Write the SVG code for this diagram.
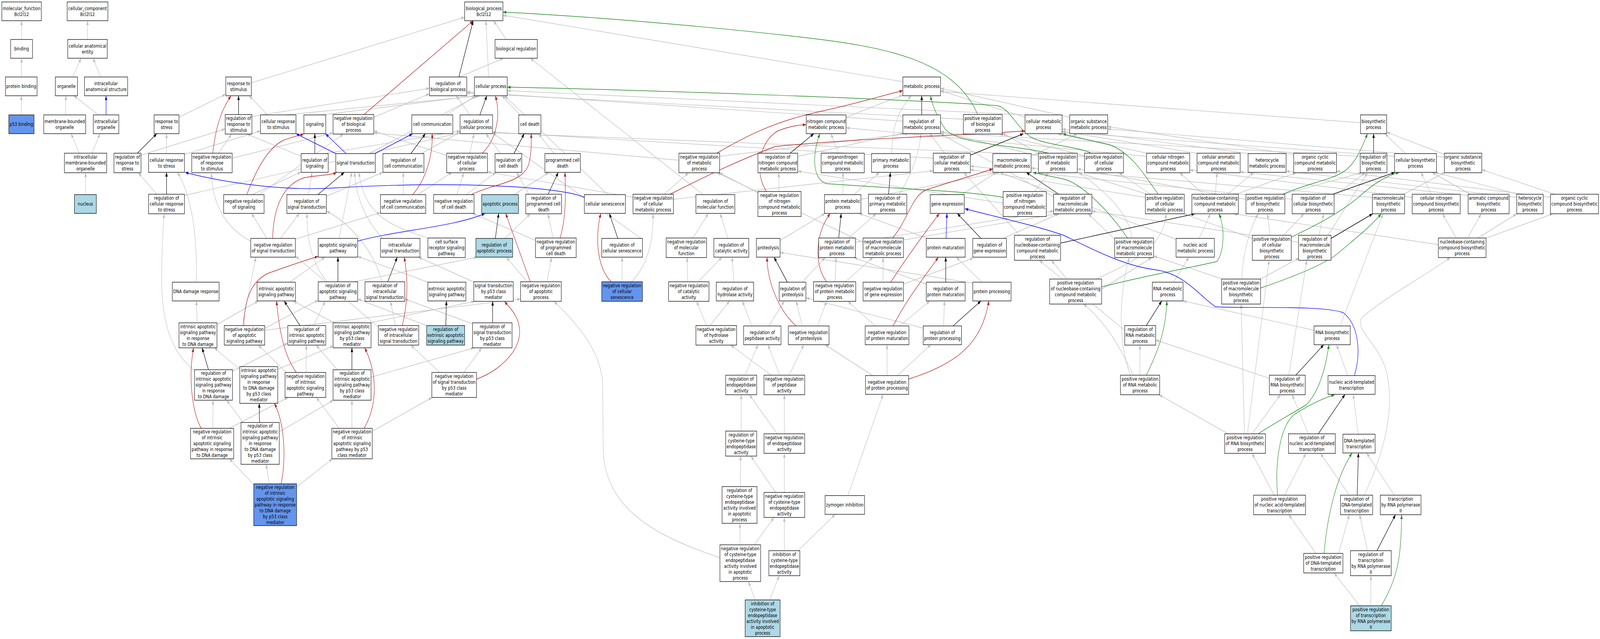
<svg xmlns="http://www.w3.org/2000/svg" width="5265" height="1635" viewBox="0 0 5265 1635" preserveAspectRatio="none">
<defs>
<marker id="ag" viewBox="0 0 11 8" refX="11" refY="4" markerWidth="11" markerHeight="8" markerUnits="userSpaceOnUse" orient="auto"><path d="M0,0 L11,4 L0,8 z" fill="#c0c0c0"/></marker>
<marker id="ak" viewBox="0 0 11 8" refX="11" refY="4" markerWidth="11" markerHeight="8" markerUnits="userSpaceOnUse" orient="auto"><path d="M0,0 L11,4 L0,8 z" fill="#000"/></marker>
<marker id="ar" viewBox="0 0 11 8" refX="11" refY="4" markerWidth="11" markerHeight="8" markerUnits="userSpaceOnUse" orient="auto"><path d="M0,0 L11,4 L0,8 z" fill="#b22222"/></marker>
<marker id="an" viewBox="0 0 11 8" refX="11" refY="4" markerWidth="11" markerHeight="8" markerUnits="userSpaceOnUse" orient="auto"><path d="M0,0 L11,4 L0,8 z" fill="#228b22"/></marker>
<marker id="ab" viewBox="0 0 11 8" refX="11" refY="4" markerWidth="11" markerHeight="8" markerUnits="userSpaceOnUse" orient="auto"><path d="M0,0 L11,4 L0,8 z" fill="#0000ff"/></marker>
</defs>
<style>
svg:root{width:100vw;height:100vh;max-width:5265px;max-height:1635px}
#edges path{fill:none;stroke-width:1.4}
.g{stroke:#c0c0c0;marker-end:url(#ag)}
.k{stroke:#000;marker-end:url(#ak)}
.r{stroke:#b22222;marker-end:url(#ar)}
.n{stroke:#228b22;marker-end:url(#an)}
.b{stroke:#0000ff;marker-end:url(#ab)}
.nd rect{fill:#fff;stroke:#000;stroke-width:1.3}
.nd.lb rect{fill:#add8e6}
.nd.cb rect{fill:#6495ed}
.nd text{font-family:"DejaVu Sans",Verdana,sans-serif;font-size:13px;text-anchor:middle;fill:#000}
</style>
<rect width="5265" height="1635" fill="#fff"/>
<g id="edges">
<g id="gray">
<path class="g" d="M71,101 L71,53"/>
<path class="g" d="M70,197 L71,149"/>
<path class="g" d="M70.5,294 L70,245"/>
<path class="g" d="M288,101 L288,53"/>
<path class="g" d="M239,197 L267,149"/>
<path class="g" d="M331,197 L306,149"/>
<path class="g" d="M215,294 L217,245"/>
<path class="g" d="M324,294 L243,245"/>
<path class="g" d="M261,392 L234,342"/>
<path class="g" d="M302,392 L329,342"/>
<path class="g" d="M281,498 L281.5,442"/>
<path class="g" d="M1666,101 L1624,53"/>
<path class="g" d="M1511,197 L1657,149"/>
<path class="g" d="M1608,197 L1599,53"/>
<path class="g" d="M827,212 L1529,44"/>
<path class="g" d="M2971,209 L1655,39"/>
<path class="g" d="M1230,300 L1413,240"/>
<path class="g" d="M3170,305 L1536,238"/>
<path class="g" d="M589,300 L743,241"/>
<path class="g" d="M829,298 L1413,226"/>
<path class="g" d="M880,294 L820,245"/>
<path class="g" d="M940,294 L1580,245"/>
<path class="g" d="M719,392 L762,343"/>
<path class="g" d="M764,405 L1096,340"/>
<path class="g" d="M464,397 L741,330"/>
<path class="g" d="M548,393 L548,342"/>
<path class="g" d="M607,395 L857,335"/>
<path class="g" d="M516,497 L455,442"/>
<path class="g" d="M607,500 L1514,340"/>
<path class="g" d="M646,722 C650,600 630,500 584,441"/>
<path class="g" d="M830,498 L991,440"/>
<path class="g" d="M853,498 L1130,343"/>
<path class="g" d="M923,610 L985,546"/>
<path class="g" d="M878,610 L828,546"/>
<path class="g" d="M972,612 L1252,544"/>
<path class="g" d="M825,617 C760,590 700,540 696,443"/>
<path class="g" d="M991,400 L813,343"/>
<path class="g" d="M1060,294 L1566,245"/>
<path class="g" d="M1470,294 L1565,245"/>
<path class="g" d="M1546,294 L1501,245"/>
<path class="g" d="M1711,294 L1652,245"/>
<path class="g" d="M1546,392 L1560,342"/>
<path class="g" d="M1470,398 L1230,335"/>
<path class="g" d="M1070,393 L1514,335"/>
<path class="g" d="M1214,393 L1572,245"/>
<path class="g" d="M1386,393 L1514,338"/>
<path class="g" d="M1647,393 L1599,342"/>
<path class="g" d="M1823,393 L1772,342"/>
<path class="g" d="M1015,498 L1027,441"/>
<path class="g" d="M1074,502 L1260,441"/>
<path class="g" d="M1327,498 L1327,441"/>
<path class="g" d="M1374,498 L1487,441"/>
<path class="g" d="M1534,498 L1632,441"/>
<path class="g" d="M1503,498 L1526,442"/>
<path class="g" d="M1692,498 L1806,441"/>
<path class="g" d="M1740,497 L1700,441"/>
<path class="g" d="M1661,610 L1745,547"/>
<path class="g" d="M1116,610 L1158,441"/>
<path class="g" d="M1259,610 C1200,560 1170,500 1167,441"/>
<path class="g" d="M1411,610 C1300,580 1200,560 1181,441"/>
<path class="g" d="M1820,609 L1803,547"/>
<path class="g" d="M1762,615 L1555,546"/>
<path class="g" d="M954,722 L1069,658"/>
<path class="g" d="M1167,721 L1570,658"/>
<path class="g" d="M1077,721 C1030,680 1010,620 1010,546"/>
<path class="g" d="M1257,721 C1230,640 1150,570 1074,540"/>
<path class="g" d="M1408,722 L1177,656"/>
<path class="g" d="M1560,722 L1377,658"/>
<path class="g" d="M1735,721 L1666,658"/>
<path class="g" d="M1800,721 L1815,659"/>
<path class="g" d="M649,826 L646,770"/>
<path class="g" d="M715,830 L850,770"/>
<path class="g" d="M765,950 L947,878"/>
<path class="g" d="M640,948 C560,900 530,820 532,700 C533,620 537,580 540,547"/>
<path class="g" d="M789,945 L705,890"/>
<path class="g" d="M914,945 L1097,885"/>
<path class="g" d="M871,840 L1047,768"/>
<path class="g" d="M871,845 L1713,765"/>
<path class="g" d="M797,833 L842,658"/>
<path class="g" d="M1032,833 L1070,771"/>
<path class="g" d="M1100,826 L965,770"/>
<path class="g" d="M1217,826 L1562,771"/>
<path class="g" d="M1301,833 L1285,771"/>
<path class="g" d="M1250,840 L972,655"/>
<path class="g" d="M1410,835 L1177,765"/>
<path class="g" d="M1560,830 L1332,765"/>
<path class="g" d="M1007,953 L1008,883"/>
<path class="g" d="M945,955 L850,883"/>
<path class="g" d="M1110,946 L1040,883"/>
<path class="g" d="M1221,965 L1560,890"/>
<path class="g" d="M1526,953 L1585,890"/>
<path class="g" d="M1447,953 L1352,883"/>
<path class="g" d="M700,1096 L701,1024"/>
<path class="g" d="M755,1096 L948,1017"/>
<path class="g" d="M800,1081 L746,1024"/>
<path class="g" d="M919,1105 L1097,1024"/>
<path class="g" d="M1158,1096 L1158,1024"/>
<path class="g" d="M1116,1096 L1041,1017"/>
<path class="g" d="M1226,1103 L1422,1017"/>
<path class="g" d="M886,1238 L876,1188"/>
<path class="g" d="M835,1240 L755,1174"/>
<path class="g" d="M976,1246 L1094,1174"/>
<path class="g" d="M2971,310 L1536,235"/>
<path class="g" d="M2784,300 L2971,243"/>
<path class="g" d="M3373,300 L3095,232"/>
<path class="g" d="M3380,294 L1669,232"/>
<path class="g" d="M3520,300 L3095,226"/>
<path class="g" d="M4477,314 L3095,234"/>
<path class="g" d="M2760,392 L2734,342"/>
<path class="g" d="M2934,393 C2935,320 2960,280 2998,245"/>
<path class="g" d="M3108,392 L3060,342"/>
<path class="g" d="M3071,405 L1621,338"/>
<path class="g" d="M3393,400 L3545,342"/>
<path class="g" d="M3419,393 L3298,340"/>
<path class="g" d="M3420,400 L3095,336"/>
<path class="g" d="M3575,400 L3290,343"/>
<path class="g" d="M3569,400 L1621,340"/>
<path class="g" d="M3780,393 L3480,342"/>
<path class="g" d="M3773,400 L2784,327"/>
<path class="g" d="M3945,393 L3495,336"/>
<path class="g" d="M4110,393 L3495,330"/>
<path class="g" d="M4257,395 L3645,324"/>
<path class="g" d="M4476,400 L3095,340"/>
<path class="g" d="M4625,393 L4557,342"/>
<path class="g" d="M4589,400 L3495,338"/>
<path class="g" d="M4753,395 L4563,338"/>
<path class="g" d="M4753,402 L3645,330"/>
<path class="g" d="M2563,490 L2563,442"/>
<path class="g" d="M2496,494 L2367,442"/>
<path class="g" d="M2185,497 L2266,442"/>
<path class="g" d="M2216,510 L3071,437"/>
<path class="g" d="M2083,505 L1604,440"/>
<path class="g" d="M2368,400 L2990,342"/>
<path class="g" d="M2234,410 L1230,340"/>
<path class="g" d="M2625,400 L2975,340"/>
<path class="g" d="M2774,498 L2774,441"/>
<path class="g" d="M2810,498 L2894,441"/>
<path class="g" d="M2833,510 L3290,441"/>
<path class="g" d="M2959,497 C2990,460 3025,400 3030,342"/>
<path class="g" d="M3164,498 L3280,441"/>
<path class="g" d="M3301,520 L2625,438"/>
<path class="g" d="M3405,490 L3450,442"/>
<path class="g" d="M3470,505 L3095,342"/>
<path class="g" d="M3769,505 L3193,434"/>
<path class="g" d="M3775,497 L3545,441"/>
<path class="g" d="M3786,497 L3682,442"/>
<path class="g" d="M3960,497 L3882,442"/>
<path class="g" d="M3999,497 L4005,442"/>
<path class="g" d="M4039,497 L4126,441"/>
<path class="g" d="M4067,497 L4265,442"/>
<path class="g" d="M4224,497 L4480,442"/>
<path class="g" d="M4100,510 L3545,432"/>
<path class="g" d="M4390,502 L4492,442"/>
<path class="g" d="M4252,510 L3193,425"/>
<path class="g" d="M4619,497 L4755,441"/>
<path class="g" d="M4516,505 L3393,430"/>
<path class="g" d="M4710,497 L4676,441"/>
<path class="g" d="M4647,505 L3915,435"/>
<path class="g" d="M4831,500 L4081,440"/>
<path class="g" d="M4840,498 L4712,441"/>
<path class="g" d="M4996,497 L4722,441"/>
<path class="g" d="M4991,505 L4232,438"/>
<path class="g" d="M5116,497 L4876,434"/>
<path class="g" d="M5102,505 L4398,438"/>
<path class="g" d="M2793,609 L2883,547"/>
<path class="g" d="M2815,620 L3467,540"/>
<path class="g" d="M2973,614 L3480,547"/>
<path class="g" d="M2840,620 L2360,442"/>
<path class="g" d="M3052,610 L2827,546"/>
<path class="g" d="M3300,610 L3485,547"/>
<path class="g" d="M3355,602 L3172,442"/>
<path class="g" d="M3668,612 L3581,547"/>
<path class="g" d="M3725,609 C3715,540 3620,480 3550,441"/>
<path class="g" d="M3946,610 L3983,547"/>
<path class="g" d="M3870,612 L3290,441"/>
<path class="g" d="M4179,602 L4171,547"/>
<path class="g" d="M4224,602 L4291,547"/>
<path class="g" d="M4121,610 L3895,547"/>
<path class="g" d="M4340,602 L4356,547"/>
<path class="g" d="M4273,620 L3593,540"/>
<path class="g" d="M4370,602 L4500,442"/>
<path class="g" d="M4733,626 L4060,547"/>
<path class="g" d="M4792,609 L4747,547"/>
<path class="g" d="M4829,609 L4874,547"/>
<path class="g" d="M4863,609 L4991,547"/>
<path class="g" d="M4891,609 L5110,547"/>
<path class="g" d="M2748,721 L2751,659"/>
<path class="g" d="M2782,721 L2872,659"/>
<path class="g" d="M2973,727 L3203,660"/>
<path class="g" d="M2906,722 L2906,659"/>
<path class="g" d="M3048,727 L2810,659"/>
<path class="g" d="M3231,722 L3147,658"/>
<path class="g" d="M3205,725 L2567,646"/>
<path class="g" d="M3510,714 L3460,666"/>
<path class="g" d="M3607,714 C3700,680 3830,640 3837,547"/>
<path class="g" d="M3625,740 L3790,659"/>
<path class="g" d="M3862,722 L3912,658"/>
<path class="g" d="M4148,714 L4275,660"/>
<path class="g" d="M4022,714 L3796,655"/>
<path class="g" d="M4086,714 C4090,650 4110,590 4140,547"/>
<path class="g" d="M3701,845 L3420,666"/>
<path class="g" d="M4324,845 L3893,770"/>
<path class="g" d="M4410,834 L4551,547"/>
<path class="g" d="M4489,1267 C4560,1150 4590,1040 4562,950 C4535,875 4455,845 4482,812 C4560,760 4700,700 4772,659"/>
<path class="g" d="M3751,960 L3751,883"/>
<path class="g" d="M3730,960 C3690,900 3650,830 3565,778"/>
<path class="g" d="M3720,960 C3680,880 3680,760 3716,659"/>
<path class="g" d="M4177,968 L3803,870"/>
<path class="g" d="M4241,960 L4300,666"/>
<path class="g" d="M4435,961 L4398,882"/>
<path class="g" d="M4120,1110 L4213,1010"/>
<path class="g" d="M4041,1110 L3814,1010"/>
<path class="g" d="M4095,1110 L4084,778"/>
<path class="g" d="M4105,1110 L4176,666"/>
<path class="g" d="M4305,1110 L4252,1010"/>
<path class="g" d="M4469,1111 L4453,1009"/>
<path class="g" d="M4193,1267 L4120,1160"/>
<path class="g" d="M4227,1267 L4297,1160"/>
<path class="g" d="M4440,1267 L4345,1160"/>
<path class="g" d="M4588,1267 L4497,1159"/>
<path class="g" d="M4405,1416 L4440,1317"/>
<path class="g" d="M4330,1416 L4241,1317"/>
<path class="g" d="M4500,1409 L4474,1317"/>
<path class="g" d="M4511,1550 L4511,1473"/>
<path class="g" d="M4474,1550 L4390,1466"/>
<path class="g" d="M2314,498 L1745,149"/>
<path class="g" d="M2280,609 L2331,546"/>
<path class="g" d="M2395,610 L2370,546"/>
<path class="g" d="M2567,615 L2715,546"/>
<path class="g" d="M2297,721 L2376,658"/>
<path class="g" d="M2263,721 L2261,659"/>
<path class="g" d="M2415,722 L2409,658"/>
<path class="g" d="M2640,722 L2715,659"/>
<path class="g" d="M2336,833 L2401,770"/>
<path class="g" d="M2325,833 L2292,771"/>
<path class="g" d="M2474,834 L2443,770"/>
<path class="g" d="M2530,834 L2581,770"/>
<path class="g" d="M2640,834 L2620,770"/>
<path class="g" d="M2690,834 L2720,771"/>
<path class="g" d="M2960,834 L3060,770"/>
<path class="g" d="M2880,834 L2790,771"/>
<path class="g" d="M3105,834 L3108,770"/>
<path class="g" d="M3040,840 L2652,762"/>
<path class="g" d="M2452,960 L2494,882"/>
<path class="g" d="M2566,960 L2527,882"/>
<path class="g" d="M2538,960 L2404,883"/>
<path class="g" d="M2597,960 L2645,882"/>
<path class="g" d="M2919,961 L2919,882"/>
<path class="g" d="M2872,961 L2715,882"/>
<path class="g" d="M2953,961 L3063,882"/>
<path class="g" d="M2439,1103 L2439,1010"/>
<path class="g" d="M2558,1110 L2466,1010"/>
<path class="g" d="M2581,1110 L2581,1010"/>
<path class="g" d="M2436,1245 L2437,1167"/>
<path class="g" d="M2552,1260 L2471,1167"/>
<path class="g" d="M2581,1260 L2581,1160"/>
<path class="g" d="M2790,1268 L2906,1009"/>
<path class="g" d="M2435,1394 L2435,1339"/>
<path class="g" d="M2482,1394 L2547,1324"/>
<path class="g" d="M2369,1427 C2150,1370 1990,1300 1985,1150 L1983,990 C1983,900 1900,830 1823,771"/>
<path class="g" d="M2581,1409 L2581,1324"/>
<path class="g" d="M2625,1410 L2748,1316"/>
<path class="g" d="M2485,1535 L2463,1488"/>
<path class="g" d="M2533,1535 L2564,1473"/>
<path class="g" d="M2000,498 L1660,245"/>
<path class="g" d="M2110,610 L1621,340"/>
<path class="g" d="M2047,721 L2047,658"/>
<path class="g" d="M2078,721 C2130,680 2150,620 2149,547"/>
</g>
<g id="black">
<path class="k" d="M1510,197 L1557,53"/>
<path class="k" d="M785,293 L785,245"/>
<path class="k" d="M452,392 L516,342"/>
<path class="k" d="M548,497 L548,441"/>
<path class="k" d="M1579,294 L1602,245"/>
<path class="k" d="M1036,393 L1036,342"/>
<path class="k" d="M1352,393 L1400,342"/>
<path class="k" d="M1691,393 L1725,342"/>
<path class="k" d="M1046,498 L1133,441"/>
<path class="k" d="M1803,498 L1837,441"/>
<path class="k" d="M1630,610 L1641,546"/>
<path class="k" d="M1112,721 L1112,658"/>
<path class="k" d="M1276,721 L1307,658"/>
<path class="k" d="M686,946 L665,890"/>
<path class="k" d="M987,833 L935,770"/>
<path class="k" d="M1467,833 L1469,770"/>
<path class="k" d="M1621,826 L1621,771"/>
<path class="k" d="M1158,946 L1158,890"/>
<path class="k" d="M854,1081 L853,1032"/>
<path class="k" d="M3033,294 L3033,245"/>
<path class="k" d="M2600,392 L2678,342"/>
<path class="k" d="M2924,497 L2930,441"/>
<path class="k" d="M3193,397 L3368,342"/>
<path class="k" d="M3484,497 L3377,441"/>
<path class="k" d="M2760,609 L2768,546"/>
<path class="k" d="M3228,610 L3150,546"/>
<path class="k" d="M3112,722 L3112,658"/>
<path class="k" d="M3136,834 L3228,770"/>
<path class="k" d="M3490,622 L3932,547"/>
<path class="k" d="M4520,392 L4520,342"/>
<path class="k" d="M4386,497 L4590,441"/>
<path class="k" d="M4380,610 L4517,547"/>
<path class="k" d="M3772,833 L3823,770"/>
<path class="k" d="M4264,960 L4356,882"/>
<path class="k" d="M4338,1110 L4426,1009"/>
<path class="k" d="M4466,1267 L4470,1159"/>
<path class="k" d="M4531,1409 L4592,1317"/>
<path class="k" d="M2033,610 L2005,546"/>
<path class="k" d="M2591,722 L2547,658"/>
</g>
<g id="red">
<path class="r" d="M1198,293 L1557,53"/>
<path class="r" d="M700,392 C712,310 735,275 760,245"/>
<path class="r" d="M812,498 C840,440 880,380 930,360 C960,350 985,347 1000,342"/>
<path class="r" d="M897,610 C900,520 940,470 1000,455 C1050,448 1090,448 1108,441"/>
<path class="r" d="M1587,392 C1630,360 1650,300 1630,245"/>
<path class="r" d="M1358,498 C1400,460 1425,400 1422,342"/>
<path class="r" d="M1551,498 C1620,470 1720,470 1740,420 C1750,390 1748,360 1748,342"/>
<path class="r" d="M1843,609 C1862,560 1862,500 1859,441"/>
<path class="r" d="M1745,721 L1664,546"/>
<path class="r" d="M802,833 C805,760 830,720 880,700 C950,680 1010,665 1047,656"/>
<path class="r" d="M1324,833 C1340,780 1345,720 1330,658"/>
<path class="r" d="M975,953 C940,915 920,860 910,770"/>
<path class="r" d="M1568,970 C1640,950 1710,900 1710,850 C1710,810 1680,790 1660,771"/>
<path class="r" d="M662,1096 C630,1050 620,960 637,890"/>
<path class="r" d="M1198,1096 C1240,1040 1245,960 1200,890"/>
<path class="r" d="M925,1238 C940,1180 940,1090 903,1032"/>
<path class="r" d="M2359,392 C2450,350 2550,310 2700,285 C2820,265 2900,245 2971,232"/>
<path class="r" d="M2205,497 C2300,460 2400,420 2550,375 C2800,355 3200,345 3373,335"/>
<path class="r" d="M2522,490 C2480,440 2500,360 2560,335 C2600,322 2630,320 2653,319"/>
<path class="r" d="M2937,609 C2990,560 3000,500 3050,485 C3150,460 3220,445 3267,432"/>
<path class="r" d="M2720,721 C2680,680 2680,600 2732,546"/>
<path class="r" d="M2931,722 C3000,640 3040,600 3091,546"/>
<path class="r" d="M2939,834 C2980,770 3040,710 3088,658"/>
<path class="r" d="M2990,970 C3150,930 3230,880 3254,770"/>
<path class="r" d="M2620,834 C2570,800 2525,730 2524,658"/>
<path class="r" d="M2011,721 C1960,680 1960,600 1977,546"/>
</g>
<g id="green">
<path class="n" d="M3217,293 C3140,150 2900,118 2625,94 C2300,65 1900,40 1655,31"/>
<path class="n" d="M3590,392 C3550,375 3440,372 3390,350 C3340,320 3320,275 3280,270 C2900,250 2000,228 1669,223"/>
<path class="n" d="M3450,392 C3350,372 3150,370 3110,330 C3085,300 3068,270 3062,245"/>
<path class="n" d="M3301,505 C3200,490 3000,485 2720,470 C2675,460 2670,400 2698,342"/>
<path class="n" d="M3811,497 C3760,440 3720,390 3650,370 C3570,355 3530,350 3497,342"/>
<path class="n" d="M3710,609 C3650,540 3560,470 3500,458 C3450,450 3420,445 3399,441"/>
<path class="n" d="M3625,734 C3800,700 3950,680 4005,669 C4030,640 4030,580 4011,547"/>
<path class="n" d="M4221,497 C4300,470 4380,460 4420,440 C4460,420 4480,380 4500,342"/>
<path class="n" d="M4249,607 C4320,580 4400,550 4470,505 C4520,470 4560,450 4605,441"/>
<path class="n" d="M4148,737 C4250,710 4350,680 4400,650 C4460,610 4510,580 4545,547"/>
<path class="n" d="M3772,960 C3810,900 3835,850 3840,770"/>
<path class="n" d="M4140,1110 C4210,1075 4270,1050 4300,1035 C4340,1000 4360,950 4373,882"/>
<path class="n" d="M4204,1267 C4195,1190 4210,1090 4260,1060 C4300,1040 4350,1020 4392,1010"/>
<path class="n" d="M4357,1416 C4365,1340 4390,1230 4449,1159"/>
<path class="n" d="M4545,1550 C4600,1480 4612,1420 4612,1317"/>
</g>
<g id="blue">
<path class="b" d="M349,294 L349,245"/>
<path class="b" d="M1923,505 C1850,478 1500,462 1100,481 C900,490 700,460 609,441"/>
<path class="b" d="M1139,393 L1071,342"/>
<path class="b" d="M1105,393 L974,342"/>
<path class="b" d="M1234,393 L1358,342"/>
<path class="b" d="M1177,617 C1300,590 1500,580 1596,546"/>
<path class="b" d="M3113,610 L3116,546"/>
<path class="b" d="M4457,961 C4480,900 4470,830 4420,800 C4350,780 4100,790 4000,785 C3950,760 3900,700 3800,690 C3700,680 3600,640 3500,602 C3400,575 3250,550 3175,534"/>
</g>
</g>
<g id="nodes">
<g id="A1" class="nd"><rect x="6" y="5" width="130" height="48"/><text x="71" y="26">molecular_function<tspan x="71" dy="15">Bcl2l12</tspan></text></g>
<g id="A2" class="nd"><rect x="221" y="5" width="134" height="48"/><text x="288" y="26">cellular_component<tspan x="288" dy="15">Bcl2l12</tspan></text></g>
<g id="A3" class="nd"><rect x="1529" y="5" width="126" height="48"/><text x="1592" y="26">biological_process<tspan x="1592" dy="15">Bcl2l12</tspan></text></g>
<g id="B1" class="nd"><rect x="35" y="101" width="72" height="48"/><text x="71" y="129.5">binding</text></g>
<g id="B2" class="nd"><rect x="223" y="101" width="130" height="48"/><text x="288" y="122">cellular anatomical<tspan x="288" dy="15">entity</tspan></text></g>
<g id="B3" class="nd"><rect x="1629" y="101" width="139" height="48"/><text x="1698.5" y="129.5">biological regulation</text></g>
<g id="C1" class="nd"><rect x="18" y="197" width="104" height="48"/><text x="70" y="225.5">protein binding</text></g>
<g id="C2" class="nd"><rect x="182" y="197" width="73" height="48"/><text x="218.5" y="225.5">organelle</text></g>
<g id="C3" class="nd"><rect x="278" y="197" width="142" height="48"/><text x="349" y="218">intracellular<tspan x="349" dy="15">anatomical structure</tspan></text></g>
<g id="C4" class="nd"><rect x="743" y="197" width="84" height="48"/><text x="785" y="218">response to<tspan x="785" dy="15">stimulus</tspan></text></g>
<g id="C5" class="nd"><rect x="1413" y="197" width="123" height="48"/><text x="1474.5" y="218">regulation of<tspan x="1474.5" dy="15">biological process</tspan></text></g>
<g id="C6" class="nd"><rect x="1561" y="197" width="108" height="48"/><text x="1615" y="225.5">cellular process</text></g>
<g id="C7" class="nd"><rect x="2971" y="197" width="124" height="48"/><text x="3033" y="225.5">metabolic process</text></g>
<g id="D1" class="nd cb"><rect x="29" y="294" width="83" height="48"/><text x="70.5" y="322.5">p53 binding</text></g>
<g id="D2" class="nd"><rect x="144" y="294" width="138" height="48"/><text x="213" y="315">membrane-bounded<tspan x="213" dy="15">organelle</tspan></text></g>
<g id="D3" class="nd"><rect x="307" y="294" width="84" height="48"/><text x="349" y="315">intracellular<tspan x="349" dy="15">organelle</tspan></text></g>
<g id="D4" class="nd"><rect x="507" y="294" width="82" height="48"/><text x="548" y="315">response to<tspan x="548" dy="15">stress</tspan></text></g>
<g id="D5" class="nd"><rect x="741" y="293" width="88" height="50"/><text x="785" y="307.5">regulation of<tspan x="785" dy="15">response to</tspan><tspan x="785" dy="15">stimulus</tspan></text></g>
<g id="D6" class="nd"><rect x="857" y="294" width="117" height="48"/><text x="915.5" y="315">cellular response<tspan x="915.5" dy="15">to stimulus</tspan></text></g>
<g id="D7" class="nd"><rect x="1000" y="294" width="72" height="48"/><text x="1036" y="322.5">signaling</text></g>
<g id="D8" class="nd"><rect x="1096" y="293" width="134" height="50"/><text x="1163" y="307.5">negative regulation<tspan x="1163" dy="15">of biological</tspan><tspan x="1163" dy="15">process</tspan></text></g>
<g id="D9" class="nd"><rect x="1355" y="294" width="135" height="48"/><text x="1422.5" y="322.5">cell communication</text></g>
<g id="D10" class="nd"><rect x="1514" y="294" width="107" height="48"/><text x="1567.5" y="315">regulation of<tspan x="1567.5" dy="15">cellular process</tspan></text></g>
<g id="D11" class="nd"><rect x="1707" y="294" width="73" height="48"/><text x="1743.5" y="322.5">cell death</text></g>
<g id="D12" class="nd"><rect x="2653" y="294" width="131" height="48"/><text x="2718.5" y="315">nitrogen compound<tspan x="2718.5" dy="15">metabolic process</tspan></text></g>
<g id="D13" class="nd"><rect x="2971" y="294" width="124" height="48"/><text x="3033" y="315">regulation of<tspan x="3033" dy="15">metabolic process</tspan></text></g>
<g id="D14" class="nd"><rect x="3170" y="293" width="128" height="50"/><text x="3234" y="307.5">positive regulation<tspan x="3234" dy="15">of biological</tspan><tspan x="3234" dy="15">process</tspan></text></g>
<g id="D15" class="nd"><rect x="3373" y="294" width="122" height="48"/><text x="3434" y="315">cellular metabolic<tspan x="3434" dy="15">process</tspan></text></g>
<g id="D16" class="nd"><rect x="3520" y="294" width="125" height="48"/><text x="3582.5" y="315">organic substance<tspan x="3582.5" dy="15">metabolic process</tspan></text></g>
<g id="D17" class="nd"><rect x="4477" y="294" width="86" height="48"/><text x="4520" y="315">biosynthetic<tspan x="4520" dy="15">process</tspan></text></g>
<g id="E1" class="nd"><rect x="212" y="392" width="139" height="50"/><text x="281.5" y="406.5">intracellular<tspan x="281.5" dy="15">membrane-bounded</tspan><tspan x="281.5" dy="15">organelle</tspan></text></g>
<g id="E2" class="nd"><rect x="375" y="392" width="89" height="50"/><text x="419.5" y="406.5">regulation of<tspan x="419.5" dy="15">response to</tspan><tspan x="419.5" dy="15">stress</tspan></text></g>
<g id="E3" class="nd"><rect x="489" y="393" width="118" height="48"/><text x="548" y="414">cellular response<tspan x="548" dy="15">to stress</tspan></text></g>
<g id="E4" class="nd"><rect x="631" y="392" width="133" height="50"/><text x="697.5" y="406.5">negative regulation<tspan x="697.5" dy="15">of response</tspan><tspan x="697.5" dy="15">to stimulus</tspan></text></g>
<g id="E5" class="nd"><rect x="991" y="393" width="89" height="48"/><text x="1035.5" y="414">regulation of<tspan x="1035.5" dy="15">signaling</tspan></text></g>
<g id="E6" class="nd"><rect x="1105" y="393" width="130" height="48"/><text x="1170" y="421.5">signal transduction</text></g>
<g id="E7" class="nd"><rect x="1260" y="393" width="135" height="48"/><text x="1327.5" y="414">regulation of<tspan x="1327.5" dy="15">cell communication</tspan></text></g>
<g id="E8" class="nd"><rect x="1470" y="392" width="134" height="50"/><text x="1537" y="406.5">negative regulation<tspan x="1537" dy="15">of cellular</tspan><tspan x="1537" dy="15">process</tspan></text></g>
<g id="E9" class="nd"><rect x="1629" y="393" width="88" height="48"/><text x="1673" y="414">regulation of<tspan x="1673" dy="15">cell death</tspan></text></g>
<g id="E10" class="nd"><rect x="1793" y="393" width="117" height="48"/><text x="1851.5" y="414">programmed cell<tspan x="1851.5" dy="15">death</tspan></text></g>
<g id="E11" class="nd"><rect x="2234" y="392" width="134" height="50"/><text x="2301" y="406.5">negative regulation<tspan x="2301" dy="15">of metabolic</tspan><tspan x="2301" dy="15">process</tspan></text></g>
<g id="E12" class="nd"><rect x="2494" y="392" width="131" height="50"/><text x="2559.5" y="406.5">regulation of<tspan x="2559.5" dy="15">nitrogen compound</tspan><tspan x="2559.5" dy="15">metabolic process</tspan></text></g>
<g id="E13" class="nd"><rect x="2702" y="392" width="142" height="50"/><text x="2773" y="406.5">organonitrogen<tspan x="2773" dy="15">compound metabolic</tspan><tspan x="2773" dy="15">process</tspan></text></g>
<g id="E14" class="nd"><rect x="2868" y="393" width="127" height="48"/><text x="2931.5" y="414">primary metabolic<tspan x="2931.5" dy="15">process</tspan></text></g>
<g id="E15" class="nd"><rect x="3071" y="392" width="122" height="50"/><text x="3132" y="406.5">regulation of<tspan x="3132" dy="15">cellular metabolic</tspan><tspan x="3132" dy="15">process</tspan></text></g>
<g id="E16" class="nd"><rect x="3267" y="393" width="126" height="48"/><text x="3330" y="414">macromolecule<tspan x="3330" dy="15">metabolic process</tspan></text></g>
<g id="E17" class="nd"><rect x="3417" y="392" width="128" height="50"/><text x="3481" y="406.5">positive regulation<tspan x="3481" dy="15">of metabolic</tspan><tspan x="3481" dy="15">process</tspan></text></g>
<g id="E18" class="nd"><rect x="3569" y="392" width="128" height="50"/><text x="3633" y="406.5">positive regulation<tspan x="3633" dy="15">of cellular</tspan><tspan x="3633" dy="15">process</tspan></text></g>
<g id="E19" class="nd"><rect x="3773" y="392" width="142" height="50"/><text x="3844" y="406.5">cellular nitrogen<tspan x="3844" dy="15">compound metabolic</tspan><tspan x="3844" dy="15">process</tspan></text></g>
<g id="E20" class="nd"><rect x="3939" y="392" width="142" height="50"/><text x="4010" y="406.5">cellular aromatic<tspan x="4010" dy="15">compound metabolic</tspan><tspan x="4010" dy="15">process</tspan></text></g>
<g id="E21" class="nd"><rect x="4107" y="393" width="125" height="48"/><text x="4169.5" y="414">heterocycle<tspan x="4169.5" dy="15">metabolic process</tspan></text></g>
<g id="E22" class="nd"><rect x="4257" y="392" width="141" height="50"/><text x="4327.5" y="406.5">organic cyclic<tspan x="4327.5" dy="15">compound metabolic</tspan><tspan x="4327.5" dy="15">process</tspan></text></g>
<g id="E23" class="nd"><rect x="4476" y="392" width="88" height="50"/><text x="4520" y="406.5">regulation of<tspan x="4520" dy="15">biosynthetic</tspan><tspan x="4520" dy="15">process</tspan></text></g>
<g id="E24" class="nd"><rect x="4589" y="393" width="138" height="48"/><text x="4658" y="414">cellular biosynthetic<tspan x="4658" dy="15">process</tspan></text></g>
<g id="E25" class="nd"><rect x="4753" y="392" width="123" height="50"/><text x="4814.5" y="406.5">organic substance<tspan x="4814.5" dy="15">biosynthetic</tspan><tspan x="4814.5" dy="15">process</tspan></text></g>
<g id="F1" class="nd lb"><rect x="245" y="498" width="72" height="48"/><text x="281" y="526.5">nucleus</text></g>
<g id="F2" class="nd"><rect x="489" y="497" width="118" height="50"/><text x="548" y="511.5">regulation of<tspan x="548" dy="15">cellular response</tspan><tspan x="548" dy="15">to stress</tspan></text></g>
<g id="F3" class="nd"><rect x="736" y="498" width="133" height="48"/><text x="802.5" y="519">negative regulation<tspan x="802.5" dy="15">of signaling</tspan></text></g>
<g id="F4" class="nd"><rect x="944" y="498" width="130" height="48"/><text x="1009" y="519">regulation of<tspan x="1009" dy="15">signal transduction</tspan></text></g>
<g id="F5" class="nd"><rect x="1252" y="498" width="149" height="48"/><text x="1326.5" y="519">negative regulation<tspan x="1326.5" dy="15">of cell communication</tspan></text></g>
<g id="F6" class="nd"><rect x="1427" y="498" width="133" height="48"/><text x="1493.5" y="519">negative regulation<tspan x="1493.5" dy="15">of cell death</tspan></text></g>
<g id="F7" class="nd lb"><rect x="1585" y="498" width="121" height="48"/><text x="1645.5" y="526.5">apoptotic process</text></g>
<g id="F8" class="nd"><rect x="1730" y="497" width="118" height="50"/><text x="1789" y="511.5">regulation of<tspan x="1789" dy="15">programmed cell</tspan><tspan x="1789" dy="15">death</tspan></text></g>
<g id="F9" class="nd"><rect x="1923" y="498" width="135" height="48"/><text x="1990.5" y="526.5">cellular senescence</text></g>
<g id="F10" class="nd"><rect x="2083" y="497" width="133" height="50"/><text x="2149.5" y="511.5">negative regulation<tspan x="2149.5" dy="15">of cellular</tspan><tspan x="2149.5" dy="15">metabolic process</tspan></text></g>
<g id="F11" class="nd"><rect x="2290" y="498" width="128" height="48"/><text x="2354" y="519">regulation of<tspan x="2354" dy="15">molecular function</tspan></text></g>
<g id="F12" class="nd"><rect x="2494" y="490" width="142" height="64"/><text x="2565" y="504">negative regulation<tspan x="2565" dy="15">of nitrogen</tspan><tspan x="2565" dy="15">compound metabolic</tspan><tspan x="2565" dy="15">process</tspan></text></g>
<g id="F13" class="nd"><rect x="2713" y="498" width="120" height="48"/><text x="2773" y="519">protein metabolic<tspan x="2773" dy="15">process</tspan></text></g>
<g id="F14" class="nd"><rect x="2858" y="497" width="126" height="50"/><text x="2921" y="511.5">regulation of<tspan x="2921" dy="15">primary metabolic</tspan><tspan x="2921" dy="15">process</tspan></text></g>
<g id="F15" class="nd"><rect x="3061" y="498" width="112" height="48"/><text x="3117" y="526.5">gene expression</text></g>
<g id="F16" class="nd"><rect x="3301" y="490" width="142" height="64"/><text x="3372" y="504">positive regulation<tspan x="3372" dy="15">of nitrogen</tspan><tspan x="3372" dy="15">compound metabolic</tspan><tspan x="3372" dy="15">process</tspan></text></g>
<g id="F17" class="nd"><rect x="3467" y="497" width="126" height="50"/><text x="3530" y="511.5">regulation of<tspan x="3530" dy="15">macromolecule</tspan><tspan x="3530" dy="15">metabolic process</tspan></text></g>
<g id="F18" class="nd"><rect x="3769" y="497" width="128" height="50"/><text x="3833" y="511.5">positive regulation<tspan x="3833" dy="15">of cellular</tspan><tspan x="3833" dy="15">metabolic process</tspan></text></g>
<g id="F19" class="nd"><rect x="3922" y="497" width="153" height="50"/><text x="3998.5" y="511.5">nucleobase-containing<tspan x="3998.5" dy="15">compound metabolic</tspan><tspan x="3998.5" dy="15">process</tspan></text></g>
<g id="F20" class="nd"><rect x="4100" y="497" width="128" height="50"/><text x="4164" y="511.5">positive regulation<tspan x="4164" dy="15">of biosynthetic</tspan><tspan x="4164" dy="15">process</tspan></text></g>
<g id="F21" class="nd"><rect x="4252" y="497" width="138" height="50"/><text x="4321" y="511.5">regulation of<tspan x="4321" dy="15">cellular biosynthetic</tspan><tspan x="4321" dy="15">process</tspan></text></g>
<g id="F22" class="nd"><rect x="4516" y="497" width="106" height="50"/><text x="4569" y="511.5">macromolecule<tspan x="4569" dy="15">biosynthetic</tspan><tspan x="4569" dy="15">process</tspan></text></g>
<g id="F23" class="nd"><rect x="4647" y="497" width="158" height="50"/><text x="4726" y="511.5">cellular nitrogen<tspan x="4726" dy="15">compound biosynthetic</tspan><tspan x="4726" dy="15">process</tspan></text></g>
<g id="F24" class="nd"><rect x="4831" y="497" width="135" height="50"/><text x="4898.5" y="511.5">aromatic compound<tspan x="4898.5" dy="15">biosynthetic</tspan><tspan x="4898.5" dy="15">process</tspan></text></g>
<g id="F25" class="nd"><rect x="4991" y="497" width="87" height="50"/><text x="5034.5" y="511.5">heterocycle<tspan x="5034.5" dy="15">biosynthetic</tspan><tspan x="5034.5" dy="15">process</tspan></text></g>
<g id="F26" class="nd"><rect x="5102" y="497" width="158" height="50"/><text x="5181" y="511.5">organic cyclic<tspan x="5181" dy="15">compound biosynthetic</tspan><tspan x="5181" dy="15">process</tspan></text></g>
<g id="G1" class="nd"><rect x="825" y="610" width="147" height="48"/><text x="898.5" y="631">negative regulation<tspan x="898.5" dy="15">of signal transduction</tspan></text></g>
<g id="G2" class="nd"><rect x="1047" y="610" width="130" height="48"/><text x="1112" y="631">apoptotic signaling<tspan x="1112" dy="15">pathway</tspan></text></g>
<g id="G3" class="nd"><rect x="1252" y="610" width="130" height="48"/><text x="1317" y="631">intracellular<tspan x="1317" dy="15">signal transduction</tspan></text></g>
<g id="G4" class="nd"><rect x="1408" y="609" width="123" height="50"/><text x="1469.5" y="623.5">cell surface<tspan x="1469.5" dy="15">receptor signaling</tspan><tspan x="1469.5" dy="15">pathway</tspan></text></g>
<g id="G5" class="nd lb"><rect x="1566" y="610" width="121" height="48"/><text x="1626.5" y="631">regulation of<tspan x="1626.5" dy="15">apoptotic process</tspan></text></g>
<g id="G6" class="nd"><rect x="1762" y="609" width="134" height="50"/><text x="1829" y="623.5">negative regulation<tspan x="1829" dy="15">of programmed</tspan><tspan x="1829" dy="15">cell death</tspan></text></g>
<g id="G7" class="nd"><rect x="1980" y="610" width="134" height="48"/><text x="2047" y="631">regulation of<tspan x="2047" dy="15">cellular senescence</tspan></text></g>
<g id="G8" class="nd"><rect x="2192" y="609" width="133" height="50"/><text x="2258.5" y="623.5">negative regulation<tspan x="2258.5" dy="15">of molecular</tspan><tspan x="2258.5" dy="15">function</tspan></text></g>
<g id="G9" class="nd"><rect x="2349" y="610" width="115" height="48"/><text x="2406.5" y="631">regulation of<tspan x="2406.5" dy="15">catalytic activity</tspan></text></g>
<g id="G10" class="nd"><rect x="2489" y="610" width="78" height="48"/><text x="2528" y="638.5">proteolysis</text></g>
<g id="G11" class="nd"><rect x="2694" y="609" width="121" height="50"/><text x="2754.5" y="623.5">regulation of<tspan x="2754.5" dy="15">protein metabolic</tspan><tspan x="2754.5" dy="15">process</tspan></text></g>
<g id="G12" class="nd"><rect x="2840" y="609" width="133" height="50"/><text x="2906.5" y="623.5">negative regulation<tspan x="2906.5" dy="15">of macromolecule</tspan><tspan x="2906.5" dy="15">metabolic process</tspan></text></g>
<g id="G13" class="nd"><rect x="3048" y="610" width="128" height="48"/><text x="3112" y="638.5">protein maturation</text></g>
<g id="G14" class="nd"><rect x="3201" y="610" width="111" height="48"/><text x="3256.5" y="631">regulation of<tspan x="3256.5" dy="15">gene expression</tspan></text></g>
<g id="G15" class="nd"><rect x="3338" y="602" width="152" height="64"/><text x="3414" y="616">regulation of<tspan x="3414" dy="15">nucleobase-containing</tspan><tspan x="3414" dy="15">compound metabolic</tspan><tspan x="3414" dy="15">process</tspan></text></g>
<g id="G16" class="nd"><rect x="3668" y="609" width="128" height="50"/><text x="3732" y="623.5">positive regulation<tspan x="3732" dy="15">of macromolecule</tspan><tspan x="3732" dy="15">metabolic process</tspan></text></g>
<g id="G17" class="nd"><rect x="3870" y="610" width="126" height="48"/><text x="3933" y="631">nucleic acid<tspan x="3933" dy="15">metabolic process</tspan></text></g>
<g id="G18" class="nd"><rect x="4121" y="602" width="128" height="64"/><text x="4185" y="616">positive regulation<tspan x="4185" dy="15">of cellular</tspan><tspan x="4185" dy="15">biosynthetic</tspan><tspan x="4185" dy="15">process</tspan></text></g>
<g id="G19" class="nd"><rect x="4273" y="602" width="107" height="64"/><text x="4326.5" y="616">regulation of<tspan x="4326.5" dy="15">macromolecule</tspan><tspan x="4326.5" dy="15">biosynthetic</tspan><tspan x="4326.5" dy="15">process</tspan></text></g>
<g id="G20" class="nd"><rect x="4733" y="609" width="157" height="50"/><text x="4811.5" y="623.5">nucleobase-containing<tspan x="4811.5" dy="15">compound biosynthetic</tspan><tspan x="4811.5" dy="15">process</tspan></text></g>
<g id="H1" class="nd"><rect x="567" y="722" width="154" height="48"/><text x="644" y="750.5">DNA damage response</text></g>
<g id="H2" class="nd"><rect x="846" y="722" width="126" height="48"/><text x="909" y="743">intrinsic apoptotic<tspan x="909" dy="15">signaling pathway</tspan></text></g>
<g id="H3" class="nd"><rect x="1047" y="721" width="130" height="50"/><text x="1112" y="735.5">regulation of<tspan x="1112" dy="15">apoptotic signaling</tspan><tspan x="1112" dy="15">pathway</tspan></text></g>
<g id="H4" class="nd"><rect x="1201" y="721" width="131" height="50"/><text x="1266.5" y="735.5">regulation of<tspan x="1266.5" dy="15">intracellular</tspan><tspan x="1266.5" dy="15">signal transduction</tspan></text></g>
<g id="H5" class="nd"><rect x="1408" y="722" width="125" height="48"/><text x="1470.5" y="743">extrinsic apoptotic<tspan x="1470.5" dy="15">signaling pathway</tspan></text></g>
<g id="H6" class="nd"><rect x="1559" y="721" width="130" height="50"/><text x="1624" y="735.5">signal transduction<tspan x="1624" dy="15">by p53 class</tspan><tspan x="1624" dy="15">mediator</tspan></text></g>
<g id="H7" class="nd"><rect x="1713" y="721" width="134" height="50"/><text x="1780" y="735.5">negative regulation<tspan x="1780" dy="15">of apoptotic</tspan><tspan x="1780" dy="15">process</tspan></text></g>
<g id="H8" class="nd cb"><rect x="1980" y="721" width="134" height="50"/><text x="2047" y="735.5">negative regulation<tspan x="2047" dy="15">of cellular</tspan><tspan x="2047" dy="15">senescence</tspan></text></g>
<g id="H9" class="nd"><rect x="2200" y="721" width="133" height="50"/><text x="2266.5" y="735.5">negative regulation<tspan x="2266.5" dy="15">of catalytic</tspan><tspan x="2266.5" dy="15">activity</tspan></text></g>
<g id="H10" class="nd"><rect x="2357" y="722" width="123" height="48"/><text x="2418.5" y="743">regulation of<tspan x="2418.5" dy="15">hydrolase activity</tspan></text></g>
<g id="H11" class="nd"><rect x="2564" y="722" width="88" height="48"/><text x="2608" y="743">regulation of<tspan x="2608" dy="15">proteolysis</tspan></text></g>
<g id="H12" class="nd"><rect x="2677" y="721" width="139" height="50"/><text x="2746.5" y="735.5">negative regulation<tspan x="2746.5" dy="15">of protein metabolic</tspan><tspan x="2746.5" dy="15">process</tspan></text></g>
<g id="H13" class="nd"><rect x="2840" y="722" width="133" height="48"/><text x="2906.5" y="743">negative regulation<tspan x="2906.5" dy="15">of gene expression</tspan></text></g>
<g id="H14" class="nd"><rect x="3048" y="722" width="128" height="48"/><text x="3112" y="743">regulation of<tspan x="3112" dy="15">protein maturation</tspan></text></g>
<g id="H15" class="nd"><rect x="3201" y="722" width="126" height="48"/><text x="3264" y="750.5">protein processing</text></g>
<g id="H16" class="nd"><rect x="3454" y="714" width="171" height="64"/><text x="3539.5" y="728">positive regulation<tspan x="3539.5" dy="15">of nucleobase-containing</tspan><tspan x="3539.5" dy="15">compound metabolic</tspan><tspan x="3539.5" dy="15">process</tspan></text></g>
<g id="H17" class="nd"><rect x="3792" y="722" width="101" height="48"/><text x="3842.5" y="743">RNA metabolic<tspan x="3842.5" dy="15">process</tspan></text></g>
<g id="H18" class="nd"><rect x="4020" y="714" width="128" height="64"/><text x="4084" y="728">positive regulation<tspan x="4084" dy="15">of macromolecule</tspan><tspan x="4084" dy="15">biosynthetic</tspan><tspan x="4084" dy="15">process</tspan></text></g>
<g id="I1" class="nd"><rect x="589" y="826" width="125" height="64"/><text x="651.5" y="840">intrinsic apoptotic<tspan x="651.5" dy="15">signaling pathway</tspan><tspan x="651.5" dy="15">in response</tspan><tspan x="651.5" dy="15">to DNA damage</tspan></text></g>
<g id="I2" class="nd"><rect x="738" y="833" width="133" height="50"/><text x="804.5" y="847.5">negative regulation<tspan x="804.5" dy="15">of apoptotic</tspan><tspan x="804.5" dy="15">signaling pathway</tspan></text></g>
<g id="I3" class="nd"><rect x="947" y="833" width="125" height="50"/><text x="1009.5" y="847.5">regulation of<tspan x="1009.5" dy="15">intrinsic apoptotic</tspan><tspan x="1009.5" dy="15">signaling pathway</tspan></text></g>
<g id="I4" class="nd"><rect x="1096" y="826" width="125" height="64"/><text x="1158.5" y="840">intrinsic apoptotic<tspan x="1158.5" dy="15">signaling pathway</tspan><tspan x="1158.5" dy="15">by p53 class</tspan><tspan x="1158.5" dy="15">mediator</tspan></text></g>
<g id="I5" class="nd"><rect x="1245" y="833" width="133" height="50"/><text x="1311.5" y="847.5">negative regulation<tspan x="1311.5" dy="15">of intracellular</tspan><tspan x="1311.5" dy="15">signal transduction</tspan></text></g>
<g id="I6" class="nd lb"><rect x="1404" y="833" width="125" height="50"/><text x="1466.5" y="847.5">regulation of<tspan x="1466.5" dy="15">extrinsic apoptotic</tspan><tspan x="1466.5" dy="15">signaling pathway</tspan></text></g>
<g id="I7" class="nd"><rect x="1555" y="826" width="130" height="64"/><text x="1620" y="840">regulation of<tspan x="1620" dy="15">signal transduction</tspan><tspan x="1620" dy="15">by p53 class</tspan><tspan x="1620" dy="15">mediator</tspan></text></g>
<g id="I8" class="nd"><rect x="2290" y="833" width="134" height="50"/><text x="2357" y="847.5">negative regulation<tspan x="2357" dy="15">of hydrolase</tspan><tspan x="2357" dy="15">activity</tspan></text></g>
<g id="I9" class="nd"><rect x="2447" y="834" width="123" height="48"/><text x="2508.5" y="855">regulation of<tspan x="2508.5" dy="15">peptidase activity</tspan></text></g>
<g id="I10" class="nd"><rect x="2594" y="834" width="134" height="48"/><text x="2661" y="855">negative regulation<tspan x="2661" dy="15">of proteolysis</tspan></text></g>
<g id="I11" class="nd"><rect x="2847" y="834" width="144" height="48"/><text x="2919" y="855">negative regulation<tspan x="2919" dy="15">of protein maturation</tspan></text></g>
<g id="I12" class="nd"><rect x="3038" y="834" width="126" height="48"/><text x="3101" y="855">regulation of<tspan x="3101" dy="15">protein processing</tspan></text></g>
<g id="I13" class="nd"><rect x="3701" y="833" width="102" height="50"/><text x="3752" y="847.5">regulation of<tspan x="3752" dy="15">RNA metabolic</tspan><tspan x="3752" dy="15">process</tspan></text></g>
<g id="I14" class="nd"><rect x="4324" y="834" width="119" height="48"/><text x="4383.5" y="855">RNA biosynthetic<tspan x="4383.5" dy="15">process</tspan></text></g>
<g id="J1" class="nd"><rect x="640" y="946" width="125" height="78"/><text x="702.5" y="959.5">regulation of<tspan x="702.5" dy="15">intrinsic apoptotic</tspan><tspan x="702.5" dy="15">signaling pathway</tspan><tspan x="702.5" dy="15">in response</tspan><tspan x="702.5" dy="15">to DNA damage</tspan></text></g>
<g id="J2" class="nd"><rect x="789" y="938" width="125" height="94"/><text x="851.5" y="952">intrinsic apoptotic<tspan x="851.5" dy="15">signaling pathway</tspan><tspan x="851.5" dy="15">in response</tspan><tspan x="851.5" dy="15">to DNA damage</tspan><tspan x="851.5" dy="15">by p53 class</tspan><tspan x="851.5" dy="15">mediator</tspan></text></g>
<g id="J3" class="nd"><rect x="938" y="953" width="134" height="64"/><text x="1005" y="967">negative regulation<tspan x="1005" dy="15">of intrinsic</tspan><tspan x="1005" dy="15">apoptotic signaling</tspan><tspan x="1005" dy="15">pathway</tspan></text></g>
<g id="J4" class="nd"><rect x="1096" y="946" width="125" height="78"/><text x="1158.5" y="959.5">regulation of<tspan x="1158.5" dy="15">intrinsic apoptotic</tspan><tspan x="1158.5" dy="15">signaling pathway</tspan><tspan x="1158.5" dy="15">by p53 class</tspan><tspan x="1158.5" dy="15">mediator</tspan></text></g>
<g id="J5" class="nd"><rect x="1421" y="953" width="147" height="64"/><text x="1494.5" y="967">negative regulation<tspan x="1494.5" dy="15">of signal transduction</tspan><tspan x="1494.5" dy="15">by p53 class</tspan><tspan x="1494.5" dy="15">mediator</tspan></text></g>
<g id="J6" class="nd"><rect x="2388" y="960" width="102" height="50"/><text x="2439" y="974.5">regulation of<tspan x="2439" dy="15">endopeptidase</tspan><tspan x="2439" dy="15">activity</tspan></text></g>
<g id="J7" class="nd"><rect x="2514" y="960" width="134" height="50"/><text x="2581" y="974.5">negative regulation<tspan x="2581" dy="15">of peptidase</tspan><tspan x="2581" dy="15">activity</tspan></text></g>
<g id="J8" class="nd"><rect x="2848" y="961" width="142" height="48"/><text x="2919" y="982">negative regulation<tspan x="2919" dy="15">of protein processing</tspan></text></g>
<g id="J9" class="nd"><rect x="3687" y="960" width="129" height="50"/><text x="3751.5" y="974.5">positive regulation<tspan x="3751.5" dy="15">of RNA metabolic</tspan><tspan x="3751.5" dy="15">process</tspan></text></g>
<g id="J10" class="nd"><rect x="4177" y="960" width="118" height="50"/><text x="4236" y="974.5">regulation of<tspan x="4236" dy="15">RNA biosynthetic</tspan><tspan x="4236" dy="15">process</tspan></text></g>
<g id="J11" class="nd"><rect x="4370" y="961" width="155" height="48"/><text x="4447.5" y="982">nucleic acid-templated<tspan x="4447.5" dy="15">transcription</tspan></text></g>
<g id="K1" class="nd"><rect x="627" y="1096" width="142" height="78"/><text x="698" y="1109.5">negative regulation<tspan x="698" dy="15">of intrinsic</tspan><tspan x="698" dy="15">apoptotic signaling</tspan><tspan x="698" dy="15">pathway in response</tspan><tspan x="698" dy="15">to DNA damage</tspan></text></g>
<g id="K2" class="nd"><rect x="793" y="1081" width="126" height="107"/><text x="856" y="1094.5">regulation of<tspan x="856" dy="15">intrinsic apoptotic</tspan><tspan x="856" dy="15">signaling pathway</tspan><tspan x="856" dy="15">in response</tspan><tspan x="856" dy="15">to DNA damage</tspan><tspan x="856" dy="15">by p53 class</tspan><tspan x="856" dy="15">mediator</tspan></text></g>
<g id="K3" class="nd"><rect x="1092" y="1096" width="133" height="78"/><text x="1158.5" y="1109.5">negative regulation<tspan x="1158.5" dy="15">of intrinsic</tspan><tspan x="1158.5" dy="15">apoptotic signaling</tspan><tspan x="1158.5" dy="15">pathway by p53</tspan><tspan x="1158.5" dy="15">class mediator</tspan></text></g>
<g id="K4" class="nd"><rect x="2388" y="1103" width="102" height="64"/><text x="2439" y="1117">regulation of<tspan x="2439" dy="15">cysteine-type</tspan><tspan x="2439" dy="15">endopeptidase</tspan><tspan x="2439" dy="15">activity</tspan></text></g>
<g id="K5" class="nd"><rect x="2514" y="1110" width="134" height="50"/><text x="2581" y="1124.5">negative regulation<tspan x="2581" dy="15">of endopeptidase</tspan><tspan x="2581" dy="15">activity</tspan></text></g>
<g id="K6" class="nd"><rect x="4030" y="1110" width="134" height="50"/><text x="4097" y="1124.5">positive regulation<tspan x="4097" dy="15">of RNA biosynthetic</tspan><tspan x="4097" dy="15">process</tspan></text></g>
<g id="K7" class="nd"><rect x="4240" y="1110" width="154" height="50"/><text x="4317" y="1124.5">regulation of<tspan x="4317" dy="15">nucleic acid-templated</tspan><tspan x="4317" dy="15">transcription</tspan></text></g>
<g id="K8" class="nd"><rect x="4419" y="1111" width="106" height="48"/><text x="4472" y="1132">DNA-templated<tspan x="4472" dy="15">transcription</tspan></text></g>
<g id="L1" class="nd cb"><rect x="835" y="1238" width="141" height="107"/><text x="905.5" y="1251.5">negative regulation<tspan x="905.5" dy="15">of intrinsic</tspan><tspan x="905.5" dy="15">apoptotic signaling</tspan><tspan x="905.5" dy="15">pathway in response</tspan><tspan x="905.5" dy="15">to DNA damage</tspan><tspan x="905.5" dy="15">by p53 class</tspan><tspan x="905.5" dy="15">mediator</tspan></text></g>
<g id="L2" class="nd"><rect x="2376" y="1245" width="115" height="94"/><text x="2433.5" y="1259">regulation of<tspan x="2433.5" dy="15">cysteine-type</tspan><tspan x="2433.5" dy="15">endopeptidase</tspan><tspan x="2433.5" dy="15">activity involved</tspan><tspan x="2433.5" dy="15">in apoptotic</tspan><tspan x="2433.5" dy="15">process</tspan></text></g>
<g id="L3" class="nd"><rect x="2514" y="1260" width="134" height="64"/><text x="2581" y="1274">negative regulation<tspan x="2581" dy="15">of cysteine-type</tspan><tspan x="2581" dy="15">endopeptidase</tspan><tspan x="2581" dy="15">activity</tspan></text></g>
<g id="L4" class="nd"><rect x="2715" y="1268" width="130" height="48"/><text x="2780" y="1296.5">zymogen inhibition</text></g>
<g id="L5" class="nd"><rect x="4125" y="1267" width="171" height="50"/><text x="4210.5" y="1281.5">positive regulation<tspan x="4210.5" dy="15">of nucleic acid-templated</tspan><tspan x="4210.5" dy="15">transcription</tspan></text></g>
<g id="L6" class="nd"><rect x="4411" y="1267" width="106" height="50"/><text x="4464" y="1281.5">regulation of<tspan x="4464" dy="15">DNA-templated</tspan><tspan x="4464" dy="15">transcription</tspan></text></g>
<g id="L7" class="nd"><rect x="4542" y="1267" width="134" height="50"/><text x="4609" y="1281.5">transcription<tspan x="4609" dy="15">by RNA polymerase</tspan><tspan x="4609" dy="15">II</tspan></text></g>
<g id="M1" class="nd"><rect x="2369" y="1394" width="134" height="94"/><text x="2436" y="1408">negative regulation<tspan x="2436" dy="15">of cysteine-type</tspan><tspan x="2436" dy="15">endopeptidase</tspan><tspan x="2436" dy="15">activity involved</tspan><tspan x="2436" dy="15">in apoptotic</tspan><tspan x="2436" dy="15">process</tspan></text></g>
<g id="M2" class="nd"><rect x="2530" y="1409" width="102" height="64"/><text x="2581" y="1423">inhibition of<tspan x="2581" dy="15">cysteine-type</tspan><tspan x="2581" dy="15">endopeptidase</tspan><tspan x="2581" dy="15">activity</tspan></text></g>
<g id="M3" class="nd"><rect x="4290" y="1416" width="129" height="50"/><text x="4354.5" y="1430.5">positive regulation<tspan x="4354.5" dy="15">of DNA-templated</tspan><tspan x="4354.5" dy="15">transcription</tspan></text></g>
<g id="M4" class="nd"><rect x="4444" y="1409" width="134" height="64"/><text x="4511" y="1423">regulation of<tspan x="4511" dy="15">transcription</tspan><tspan x="4511" dy="15">by RNA polymerase</tspan><tspan x="4511" dy="15">II</tspan></text></g>
<g id="N1" class="nd lb"><rect x="2452" y="1535" width="115" height="94"/><text x="2509.5" y="1549">inhibition of<tspan x="2509.5" dy="15">cysteine-type</tspan><tspan x="2509.5" dy="15">endopeptidase</tspan><tspan x="2509.5" dy="15">activity involved</tspan><tspan x="2509.5" dy="15">in apoptotic</tspan><tspan x="2509.5" dy="15">process</tspan></text></g>
<g id="N2" class="nd lb"><rect x="4444" y="1550" width="134" height="64"/><text x="4511" y="1564">positive regulation<tspan x="4511" dy="15">of transcription</tspan><tspan x="4511" dy="15">by RNA polymerase</tspan><tspan x="4511" dy="15">II</tspan></text></g>
</g>
</svg>
